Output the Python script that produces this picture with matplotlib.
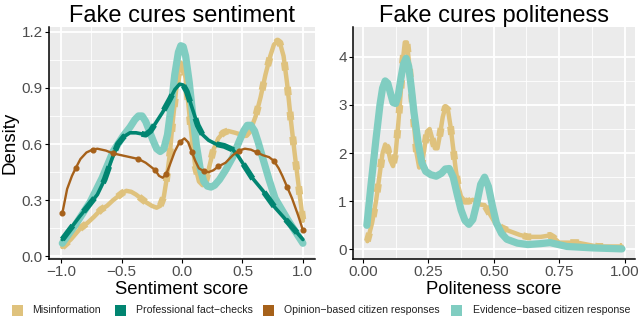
import numpy as np
import matplotlib
matplotlib.use("Agg")
import matplotlib.pyplot as plt
from matplotlib.patches import Rectangle

plt.rcParams["font.family"] = ["Liberation Sans", "DejaVu Sans"]

# Series names and colours (BrBG-style palette)
series_names = ["Misinformation", "Professional fact-checks",
                "Opinion-based citizen responses", "Evidence-based citizen response"]
series_colors = ["#DFC27D", "#018571", "#A6611A", "#80CDC1"]

# --- Sentiment density curves (x, y) ---
sent_mis_x = [-0.99, -0.92, -0.84, -0.78, -0.73, -0.67, -0.62, -0.57, -0.53, -0.49,
              -0.46, -0.42, -0.38, -0.34, -0.30, -0.25, -0.21, -0.18, -0.15, -0.13,
              -0.10, -0.08, -0.05, -0.03, -0.01, 0.01, 0.03, 0.05, 0.07, 0.09,
              0.11, 0.14, 0.17, 0.20, 0.23, 0.26, 0.30, 0.34, 0.38, 0.44,
              0.49, 0.53, 0.57, 0.61, 0.65, 0.69, 0.73, 0.76, 0.79, 0.81,
              0.84, 0.87, 0.90, 0.93, 0.96, 1.0]
sent_mis_y = [0.05, 0.09, 0.15, 0.18, 0.21, 0.25, 0.27, 0.30, 0.32, 0.34,
              0.35, 0.345, 0.33, 0.31, 0.29, 0.27, 0.26, 0.27, 0.32, 0.40,
              0.55, 0.70, 0.88, 0.98, 1.035, 1.02, 0.95, 0.83, 0.70, 0.58,
              0.48, 0.40, 0.38, 0.41, 0.49, 0.57, 0.63, 0.66, 0.67, 0.66,
              0.65, 0.65, 0.68, 0.75, 0.85, 0.97, 1.07, 1.13, 1.15, 1.14,
              1.07, 0.92, 0.73, 0.56, 0.40, 0.19]

sent_pro_x = [-0.99, -0.85, -0.70, -0.64, -0.58, -0.53, -0.48, -0.43, -0.38, -0.34,
              -0.30, -0.26, -0.22, -0.16, -0.10, -0.06, -0.02, 0.01, 0.04, 0.07,
              0.10, 0.13, 0.17, 0.22, 0.28, 0.35, 0.42, 0.46, 0.50, 0.58, 0.67,
              0.77, 0.88, 1.0]
sent_pro_y = [0.09, 0.21, 0.33, 0.41, 0.52, 0.60, 0.64, 0.66, 0.66, 0.655,
              0.65, 0.67, 0.71, 0.77, 0.84, 0.89, 0.92, 0.915, 0.88, 0.82,
              0.76, 0.70, 0.65, 0.62, 0.60, 0.59, 0.57, 0.54, 0.50, 0.42, 0.35,
              0.26, 0.18, 0.09]

sent_opi_x = [-0.99, -0.95, -0.91, -0.88, -0.84, -0.79, -0.74, -0.70, -0.63, -0.57,
              -0.50, -0.43, -0.36, -0.30, -0.26, -0.22, -0.19, -0.16, -0.13, -0.10,
              -0.06, -0.02, 0.02, 0.05, 0.08, 0.11, 0.14, 0.18, 0.22, 0.26, 0.30,
              0.36, 0.42, 0.47, 0.52, 0.57, 0.62, 0.67, 0.72, 0.76, 0.80, 0.83,
              0.87, 0.91, 0.96, 1.0]
sent_opi_y = [0.23, 0.36, 0.43, 0.47, 0.52, 0.555, 0.57, 0.575, 0.565, 0.55,
              0.54, 0.53, 0.52, 0.50, 0.48, 0.46, 0.43, 0.42, 0.44, 0.49,
              0.56, 0.61, 0.63, 0.61, 0.56, 0.51, 0.47, 0.455, 0.45, 0.46, 0.48,
              0.50, 0.54, 0.565, 0.575, 0.57, 0.555, 0.54, 0.53, 0.51, 0.47, 0.43,
              0.37, 0.31, 0.22, 0.14]

sent_evi_x = [-0.99, -0.88, -0.76, -0.66, -0.57, -0.49, -0.43, -0.39, -0.36, -0.33,
              -0.30, -0.27, -0.24, -0.21, -0.18, -0.15, -0.12, -0.09, -0.06, -0.03,
              -0.01, 0.01, 0.03, 0.06, 0.09, 0.12, 0.15, 0.18, 0.21, 0.24, 0.27,
              0.31, 0.36, 0.42, 0.47, 0.51, 0.54, 0.57, 0.60, 0.63, 0.67, 0.72,
              0.77, 0.88, 1.0]
sent_evi_y = [0.07, 0.17, 0.29, 0.42, 0.56, 0.64, 0.69, 0.73, 0.75, 0.75,
              0.72, 0.67, 0.62, 0.575, 0.56, 0.575, 0.65, 0.80, 0.97, 1.09,
              1.125, 1.12, 1.07, 0.93, 0.75, 0.59, 0.47, 0.40, 0.375, 0.37, 0.38,
              0.41, 0.46, 0.53, 0.61, 0.67, 0.70, 0.70, 0.67, 0.61, 0.52, 0.41,
              0.31, 0.19, 0.07]

# --- Politeness density curves (x, y) ---
pol_mis_x = [0.017, 0.035, 0.05, 0.065, 0.075, 0.085, 0.095, 0.105, 0.115, 0.125,
             0.135, 0.145, 0.152, 0.16, 0.168, 0.176, 0.185, 0.195, 0.205, 0.215,
             0.225, 0.235, 0.245, 0.255, 0.265, 0.275, 0.285, 0.295, 0.305, 0.315,
             0.325, 0.335, 0.345, 0.355, 0.365, 0.375, 0.39, 0.405, 0.42, 0.435,
             0.45, 0.465, 0.48, 0.505, 0.53, 0.56, 0.60, 0.63, 0.68, 0.715, 0.73,
             0.75, 0.82, 0.895, 0.99]
pol_mis_y = [0.17, 0.55, 1.0, 1.6, 2.0, 2.18, 2.1, 1.85, 1.73, 2.0,
             2.6, 3.3, 3.9, 4.3, 4.3, 3.9, 3.3, 2.6, 2.0, 1.7,
             1.75, 2.1, 2.45, 2.5, 2.3, 2.1, 2.1, 2.4, 2.75, 2.95,
             2.9, 2.55, 2.1, 1.65, 1.3, 1.1, 1.0, 1.0, 1.03, 0.98,
             0.93, 0.92, 0.78, 0.55, 0.45, 0.38, 0.30, 0.26, 0.26, 0.29, 0.24,
             0.14, 0.14, 0.06, 0.06]

pol_evi_x = [0.015, 0.03, 0.05, 0.065, 0.075, 0.085, 0.095, 0.105, 0.115, 0.125,
             0.135, 0.145, 0.155, 0.165, 0.175, 0.185, 0.195, 0.21, 0.225, 0.24,
             0.26, 0.28, 0.30, 0.315, 0.33, 0.345, 0.36, 0.375, 0.39, 0.405,
             0.42, 0.435, 0.45, 0.465, 0.48, 0.495, 0.51, 0.53, 0.55, 0.59,
             0.63, 0.68, 0.715, 0.78, 0.88, 0.99]
pol_evi_y = [0.5, 1.3, 2.3, 3.0, 3.35, 3.5, 3.45, 3.25, 3.05, 3.03,
             3.2, 3.55, 3.85, 3.97, 3.8, 3.35, 2.85, 2.25, 1.8, 1.62,
             1.55, 1.52, 1.58, 1.67, 1.68, 1.5, 1.15, 0.82, 0.6, 0.52,
             0.62, 0.95, 1.35, 1.5, 1.3, 0.9, 0.55, 0.33, 0.21, 0.13,
             0.10, 0.12, 0.14, 0.06, 0.03, 0.01]

sent_xticks = [-1.0, -0.5, 0.0, 0.5, 1.0]
sent_yticks = [0.0, 0.3, 0.6, 0.9, 1.2]
pol_xticks = [0.0, 0.25, 0.5, 0.75, 1.0]
pol_yticks = [0, 1, 2, 3, 4]

W, H = 640, 317
fig = plt.figure(figsize=(W / 100, H / 100), dpi=100)


def add_axes_px(x0, y0, x1, y1):
    # pixel box (top-left origin) -> figure fraction
    return fig.add_axes([x0 / W, 1 - y1 / H, (x1 - x0) / W, (y1 - y0) / H])


def style_panel(ax, xticks, yticks, xfmt, yfmt):
    ax.set_facecolor("#EBEBEB")
    ax.set_xticks(xticks)
    ax.set_yticks(yticks)
    ax.set_xticks([(a + b) / 2 for a, b in zip(xticks[:-1], xticks[1:])], minor=True)
    ax.set_yticks([(a + b) / 2 for a, b in zip(yticks[:-1], yticks[1:])], minor=True)
    ax.set_xticklabels([xfmt(v) for v in xticks])
    ax.set_yticklabels([yfmt(v) for v in yticks])
    ax.grid(which="major", color="white", lw=1.3)
    ax.grid(which="minor", color="white", lw=0.6)
    ax.set_axisbelow(True)
    for s in ["top", "right"]:
        ax.spines[s].set_visible(False)
    for s in ["left", "bottom"]:
        ax.spines[s].set_color("black")
        ax.spines[s].set_linewidth(1.1)
    ax.tick_params(which="major", length=3, color="black", labelsize=11,
                   labelcolor="#4D4D4D", pad=1.5)
    ax.tick_params(which="minor", length=0)


def draw_mis(ax, x, y):
    ax.plot(x, y, color=series_colors[0], lw=3.2, solid_capstyle="round",
            solid_joinstyle="round", zorder=2)
    ax.plot(x, y, color=series_colors[0], lw=5.0, dashes=(1.2, 2.4), zorder=2)


def draw_pro(ax, x, y):
    ax.plot(x, y, color=series_colors[1], lw=2.6, solid_capstyle="round",
            solid_joinstyle="round", zorder=4)
    ax.plot(x, y, color=series_colors[1], lw=4.2, dashes=(3, 3), zorder=4)


def draw_opi(ax, x, y):
    ax.plot(x, y, color=series_colors[2], lw=1.7, marker="o", ms=3.4,
            markevery=3, solid_joinstyle="round", zorder=5)


def draw_evi(ax, x, y):
    ax.plot(x, y, color=series_colors[3], lw=5.2, solid_capstyle="round",
            solid_joinstyle="round", zorder=3)


# Left panel: sentiment
ax1 = add_axes_px(49, 27, 315, 259)
draw_mis(ax1, sent_mis_x, sent_mis_y)
draw_pro(ax1, sent_pro_x, sent_pro_y)
draw_opi(ax1, sent_opi_x, sent_opi_y)
draw_evi(ax1, sent_evi_x, sent_evi_y)
ax1.set_xlim(-1.1, 1.1)
ax1.set_ylim(-0.014, 1.225)
style_panel(ax1, sent_xticks, sent_yticks,
            lambda v: f"{v:.1f}".replace("-", "\u2212"), lambda v: f"{v:.1f}")
ax1.set_title("Fake cures sentiment", fontsize=17, pad=2)
ax1.set_xlabel("Sentiment score", fontsize=13.3, labelpad=1)
ax1.set_ylabel("Density", fontsize=13.5, labelpad=2)

# Right panel: politeness
ax2 = add_axes_px(353, 27, 635, 259)
draw_mis(ax2, pol_mis_x, pol_mis_y)
draw_evi(ax2, pol_evi_x, pol_evi_y)
ax2.set_xlim(-0.038, 1.04)
ax2.set_ylim(-0.2, 4.62)
style_panel(ax2, pol_xticks, pol_yticks,
            lambda v: f"{v:.2f}", lambda v: f"{v:d}")
ax2.set_title("Fake cures politeness", fontsize=17, pad=2)
ax2.set_xlabel("Politeness score", fontsize=13.3, labelpad=1)

# Legend along the bottom: square keys and labels placed in pixel positions
key_left = [12, 115, 263, 451]
text_left = [32, 136, 284, 473]
key_y = 310
for name, color, kx, tx in zip(series_names, series_colors, key_left, text_left):
    fig.patches.append(Rectangle((kx / W, 1 - (key_y + 5.5) / H), 11 / W, 11 / H,
                                 transform=fig.transFigure, facecolor=color,
                                 edgecolor="none"))
    fig.text(tx / W, 1 - key_y / H, name.replace("-", "\u2212"), fontsize=7.6,
             color="#222222", ha="left", va="center")

fig.savefig("out.png", dpi=100)
